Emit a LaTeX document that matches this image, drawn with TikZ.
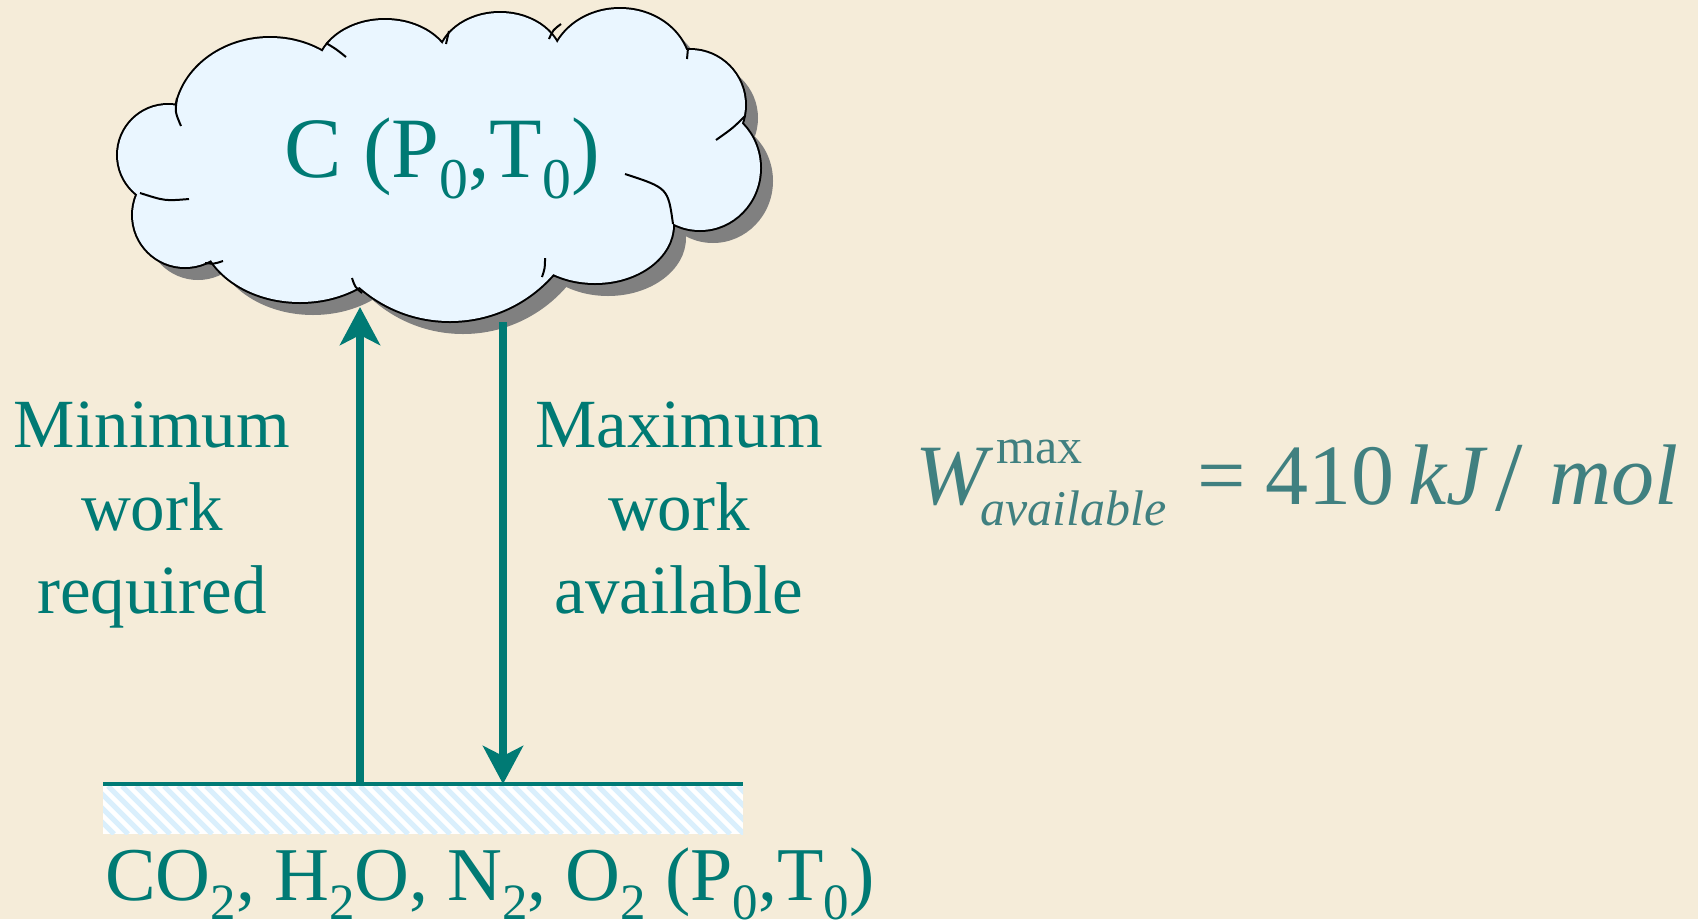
\documentclass[tikz,border=0pt]{standalone}
\usepackage{fontspec}
\setmainfont{Liberation Serif}
\usepackage{graphicx}
\usetikzlibrary{arrows.meta}
\definecolor{bgbeige}{RGB}{245,236,217}
\definecolor{tealtext}{RGB}{0,122,116}
\definecolor{eqteal}{RGB}{64,128,128}
\definecolor{cloudblue}{RGB}{234,246,255}
\definecolor{shadowgray}{RGB}{128,128,128}
\definecolor{stripeblue}{RGB}{218,239,252}
\newcommand{\lowsub}[1]{\raisebox{-0.25em}{\scalebox{0.67}{#1}}}
\def\pufflist{168/155/50/50, 185/215/52/52, 300/225/100/77, 450/184/137/137, 595/225/78/58, 700/168/60/62, 690/105/55/55, 620/70/70/61, 500/62/62/49, 385/72/68/52, 270/120/95/82}
\tikzset{
  flow/.style={tealtext, line width=7.5pt, -{Stealth[length=38pt, width=40pt, inset=10pt]}},
  curl/.style={black, line width=2pt},
  labeltext/.style={tealtext, align=center, font=\fontsize{69}{83}\selectfont, inner sep=0pt},
}
\begin{document}
\begin{tikzpicture}[x=1pt, y=-1pt]
\useasboundingbox (0,0) rectangle (1698,919);
\clip (0,0) rectangle (1698,919);
\fill[bgbeige] (0,0) rectangle (1698,919);

% cloud: shadow, outline, fill
\foreach \cx/\cy/\rx/\ry in \pufflist {
  \fill[shadowgray] (\cx+13,\cy+13) ellipse[x radius=\rx, y radius=\ry];
}
\foreach \cx/\cy/\rx/\ry in \pufflist {
  \draw[black, line width=4pt] (\cx,\cy) ellipse[x radius=\rx, y radius=\ry];
}
\foreach \cx/\cy/\rx/\ry in \pufflist {
  \fill[cloudblue] (\cx,\cy) ellipse[x radius=\rx, y radius=\ry];
}
\fill[cloudblue] (168,155) -- (185,215) -- (300,225) -- (450,184) -- (595,225) -- (700,168)
  -- (690,105) -- (620,70) -- (500,62) -- (385,72) -- (270,120) -- cycle;
% inner curls of the cloud
\draw[curl] (177,98) .. controls (175,112) .. (181,126);
\draw[curl] (140,193) .. controls (165,201) .. (189,199);
\draw[curl] (205,263) .. controls (214,264) .. (223,261);
\draw[curl] (352,278) .. controls (355,287) .. (362,293);
\draw[curl] (545,258) .. controls (545,268) .. (542,277);
\draw[curl] (625,174) .. controls (668,188) .. (673,224);
\draw[curl] (745,116) .. controls (733,128) .. (716,140);
\draw[curl] (688,48) .. controls (688,53) .. (687,59);
\draw[curl] (561,24) .. controls (553,30) .. (549,39);
\draw[curl] (449,31) .. controls (447,37) .. (446,44);
\draw[curl] (326,43) .. controls (336,49) .. (346,57);

\node[tealtext, anchor=base west, inner sep=0pt, font=\fontsize{86}{100}\selectfont]
  (cloudtext) at (284,177) {C (P\lowsub{0},T\lowsub{0})};

% ground bar
\fill[white] (103,786) rectangle (743,834);
\begin{scope}
  \clip (103,786) rectangle (743,834);
  \foreach \i in {-60,-46,...,760} {
    \draw[stripeblue, line width=5pt] (\i,786) -- (\i+48,834);
  }
\end{scope}
\coordinate (barL) at (103,784);
\coordinate (barR) at (743,784);
\draw[tealtext, line width=4pt] (barL) -- (barR);

% arrows
\coordinate (upfoot) at (360,784);
\coordinate (uptip) at (360,307);
\coordinate (downtop) at (503,322);
\coordinate (downtip) at (503,784);
\draw[flow] (upfoot) -- (uptip);
\draw[flow] (downtop) -- (downtip);

% labels (anchor base = baseline of the last line)
\node[labeltext, anchor=base] (minlabel) at (152,613) {Minimum\\work\\required};
\node[labeltext, anchor=base] (maxlabel) at (679,613) {Maximum\\work\\available};

\node[tealtext, anchor=base west, inner sep=0pt, font=\fontsize{76}{90}\selectfont]
  (groundtext) at (105,900) {CO\lowsub{2}, H\lowsub{2}O, N\lowsub{2}, O\lowsub{2} (P\lowsub{0},T\lowsub{0})};

% equation
\node[eqteal, anchor=base west, inner sep=0pt, font=\fontsize{86}{100}\selectfont] (eqn) at (915,504) {%
\rlap{\itshape W}%
\rlap{\hspace{81pt}\raisebox{41pt}{\fontsize{50}{60}\selectfont max}}%
\rlap{\hspace{65pt}\raisebox{-21pt}{\fontsize{50}{60}\selectfont\itshape available}}%
\rlap{\hspace{282pt}=}%
\rlap{\hspace{350pt}410}%
\rlap{\hspace{493pt}\itshape kJ}%
\rlap{\hspace{580pt}\raisebox{-6pt}{\scalebox{1.15}{/}}}%
\rlap{\hspace{634pt}\itshape mol}%
\hspace{764pt}};
\end{tikzpicture}
\end{document}
